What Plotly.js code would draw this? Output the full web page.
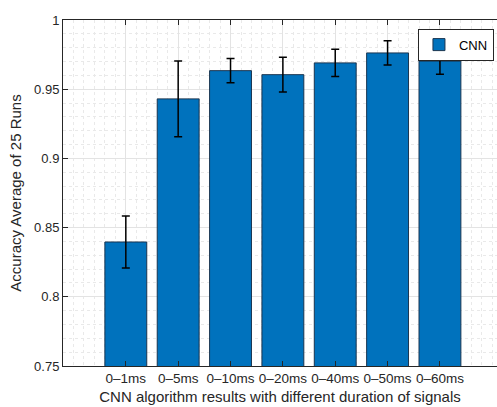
<!DOCTYPE html>
<html>
<head>
<meta charset="utf-8">
<script src="https://cdn.plot.ly/plotly-3.0.1.min.js"></script>
<style>html,body{margin:0;padding:0;background:#fff;}#chart{width:497px;height:407px;}</style>
</head>
<body>
<div id="chart"></div>
<script>
const categories = ["0\u20131ms", "0\u20135ms", "0\u201310ms", "0\u201320ms", "0\u201340ms", "0\u201350ms", "0\u201360ms"];
const accuracy = [0.8396, 0.9430, 0.9634, 0.9605, 0.9690, 0.9762, 0.9703];
const errorBars = [0.0188, 0.0273, 0.0087, 0.0126, 0.0099, 0.0088, 0.0095];
const seriesName = "CNN";
const yTickVals = [0.75, 0.8, 0.85, 0.9, 0.95, 1];

const positions = categories.map((c, i) => i + 1);
const axisColor = "#262626";
const font = {family: "Liberation Sans, Arial, sans-serif", size: 13, color: axisColor};

const trace = {
  type: "bar",
  name: seriesName,
  x: positions,
  y: accuracy,
  width: 0.8,
  marker: {color: "#0072BD", line: {color: "#1a3550", width: 1}},
  error_y: {type: "data", array: errorBars, visible: true, color: "#000000", thickness: 1.5, width: 4},
  showlegend: true
};

const layout = {
  width: 497, height: 407,
  margin: {l: 63, r: 0, t: 20, b: 41},
  paper_bgcolor: "#ffffff", plot_bgcolor: "#ffffff",
  font: font,
  bargap: 0.2,
  xaxis: {
    type: "linear",
    range: [-0.2, 8.09],
    tickvals: positions,
    ticktext: categories,
    ticks: "inside", ticklen: 5, tickcolor: axisColor,
    showline: true, linecolor: axisColor, linewidth: 1, mirror: "ticks",
    showgrid: true, gridcolor: "#e3e3e3", gridwidth: 1,
    zeroline: false,
    minor: {dtick: 0.2, tick0: 0, showgrid: true, gridcolor: "#e9e9e9", griddash: "dot", gridwidth: 1, ticks: ""},
    tickfont: {size: 13.5, color: axisColor},
    title: {text: "CNN algorithm results with different duration of signals", font: {size: 15, color: axisColor}, standoff: 6}
  },
  yaxis: {
    range: [0.75, 1],
    tickvals: yTickVals,
    ticks: "inside", ticklen: 5, tickcolor: axisColor,
    showline: true, linecolor: axisColor, linewidth: 1, mirror: false,
    showgrid: true, gridcolor: "#e3e3e3", gridwidth: 1,
    zeroline: false,
    minor: {dtick: 0.01, showgrid: true, gridcolor: "#e9e9e9", griddash: "dot", gridwidth: 1, ticks: ""},
    tickfont: {size: 13, color: axisColor},
    title: {text: "Accuracy Average of 25 Runs", font: {size: 15, color: axisColor}, standoff: 8}
  },
  legend: {
    x: 0.993, xanchor: "right", y: 0.975, yanchor: "top",
    bgcolor: "#ffffff", bordercolor: "#262626", borderwidth: 1,
    font: {size: 13, color: "#000000"},
    tracegroupgap: 0
  }
};

Plotly.newPlot("chart", [trace], layout, {displayModeBar: false, staticPlot: true});
</script>
</body>
</html>
